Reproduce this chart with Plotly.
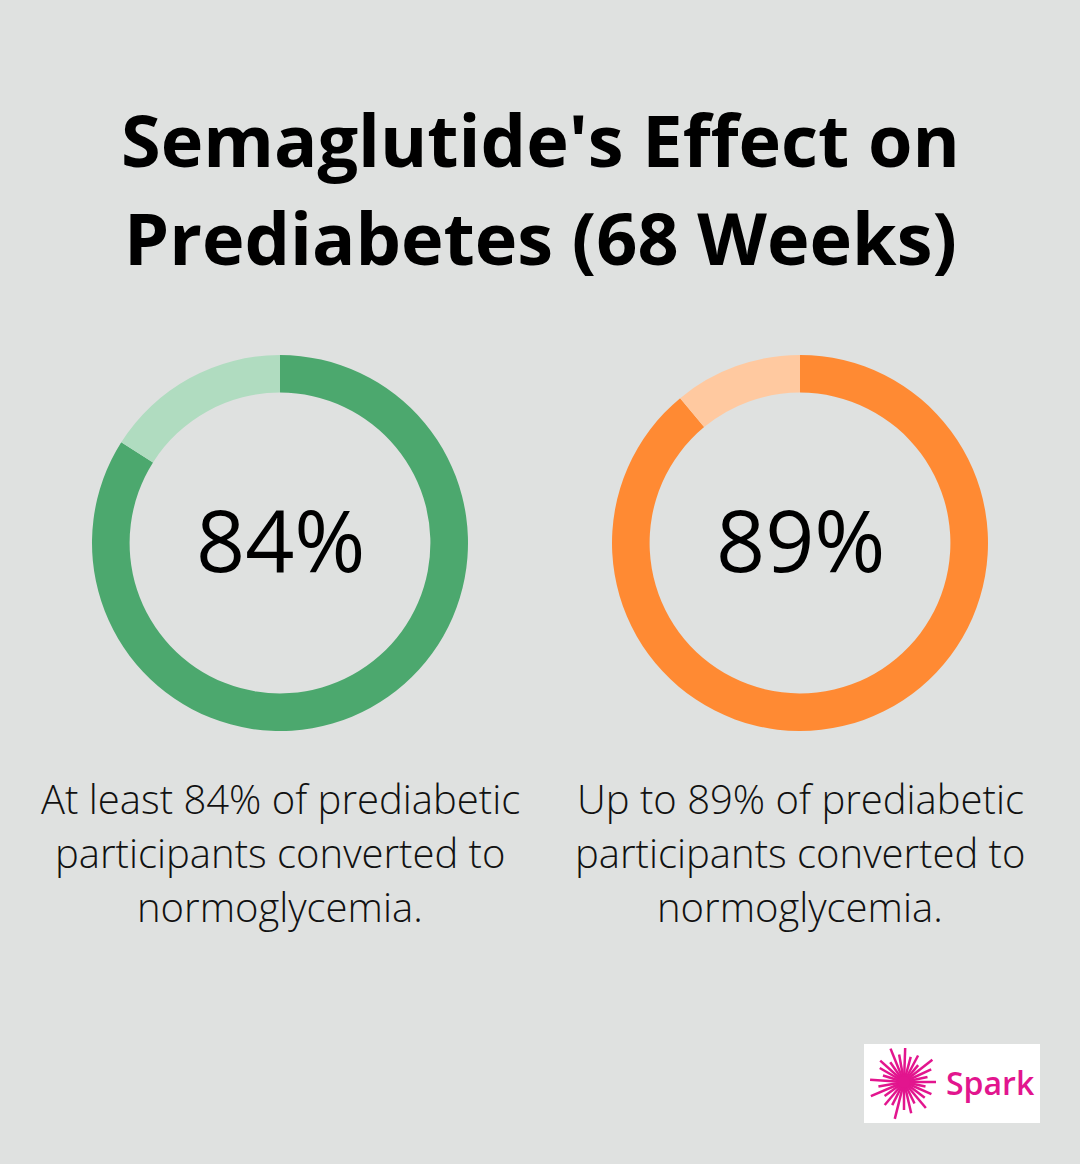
import math
import plotly.graph_objects as go

W, H = 1080, 1164

title_lines = ["Semaglutide's Effect on", "Prediabetes (68 Weeks)"]
labels = ["Converted", "Other"]
values_left = [84, 16]
values_right = [89, 11]
center_left = "84%"
center_right = "89%"
caption_left = ["At least 84% of prediabetic", "participants converted to", "normoglycemia."]
caption_right = ["Up to 89% of prediabetic", "participants converted to", "normoglycemia."]

green = ["#4CA86E", "#B0DCC0"]
orange = ["#FF8A33", "#FFC9A0"]
bg = "#DFE1E0"
magenta = "#E2158E"


def fx(p):
    return p / W


def fy(p):
    return 1 - p / H


fig = go.Figure()

fig.add_trace(go.Pie(
    labels=labels, values=values_left, hole=0.8, sort=False, direction='clockwise',
    marker=dict(colors=green, line=dict(width=0)), textinfo='none', hoverinfo='skip',
    domain=dict(x=[fx(92), fx(468)], y=[fy(731), fy(355)]),
))
fig.add_trace(go.Pie(
    labels=labels, values=values_right, hole=0.8, sort=False, direction='clockwise',
    marker=dict(colors=orange, line=dict(width=0)), textinfo='none', hoverinfo='skip',
    domain=dict(x=[fx(612), fx(988)], y=[fy(731), fy(355)]),
))

annotations = []
for i, line in enumerate(title_lines):
    annotations.append(dict(
        text="<b>" + line + "</b>", x=fx(540), y=fy(139 + 98 * i), xref='paper', yref='paper',
        showarrow=False, xanchor='center', yanchor='middle',
        font=dict(family="Open Sans", size=72, color="#000000"),
    ))

for cx, txt in [(280, center_left), (800, center_right)]:
    annotations.append(dict(
        text=txt, x=fx(cx), y=fy(538), xref='paper', yref='paper',
        showarrow=False, xanchor='center', yanchor='middle',
        font=dict(family="Open Sans", size=86, color="#000000", weight=500),
    ))

for cx, lines in [(280, caption_left), (800, caption_right)]:
    for i, line in enumerate(lines):
        annotations.append(dict(
            text=line, x=fx(cx), y=fy(798 + 54 * i), xref='paper', yref='paper',
            showarrow=False, xanchor='center', yanchor='middle',
            font=dict(family="Open Sans", size=40, color="#111111", weight=300),
        ))

# logo
annotations.append(dict(
    text="Spark", x=fx(944), y=fy(1082), xref='paper', yref='paper',
    showarrow=False, xanchor='left', yanchor='middle',
    font=dict(family="Open Sans", size=32, color=magenta, weight=600),
))

shapes = [dict(type='rect', xref='paper', yref='paper', x0=fx(864), x1=fx(1040),
               y0=fy(1123), y1=fy(1044), fillcolor='white', line=dict(width=0), layer='below')]

rays = [(0, 32), (12, 24), (25, 30), (38, 36), (50, 22), (62, 30), (75, 26), (88, 34), (100, 28),
        (112, 36), (125, 24), (138, 32), (150, 28), (163, 22), (176, 34), (190, 26), (203, 36),
        (216, 24), (230, 30), (243, 26), (256, 38), (270, 28), (283, 32), (296, 24), (310, 34),
        (323, 26), (336, 30), (348, 22)]
scx, scy = 904, 1082
for ang, ln in rays:
    a = math.radians(ang)
    shapes.append(dict(type='line', xref='paper', yref='paper',
                       x0=fx(scx), y0=fy(scy), x1=fx(scx + ln * math.cos(a)), y1=fy(scy - ln * math.sin(a)),
                       line=dict(color=magenta, width=2.5)))
shapes.append(dict(type='circle', xref='paper', yref='paper',
                   x0=fx(scx - 6), x1=fx(scx + 6), y0=fy(scy + 6), y1=fy(scy - 6),
                   fillcolor=magenta, line=dict(width=0)))

fig.update_layout(
    width=W, height=H,
    margin=dict(l=0, r=0, t=0, b=0),
    paper_bgcolor=bg, plot_bgcolor=bg,
    showlegend=False,
    annotations=annotations,
    shapes=shapes,
)

fig.write_html("out.html", config={'displayModeBar': False},
               post_script="document.body.style.margin='0';")
